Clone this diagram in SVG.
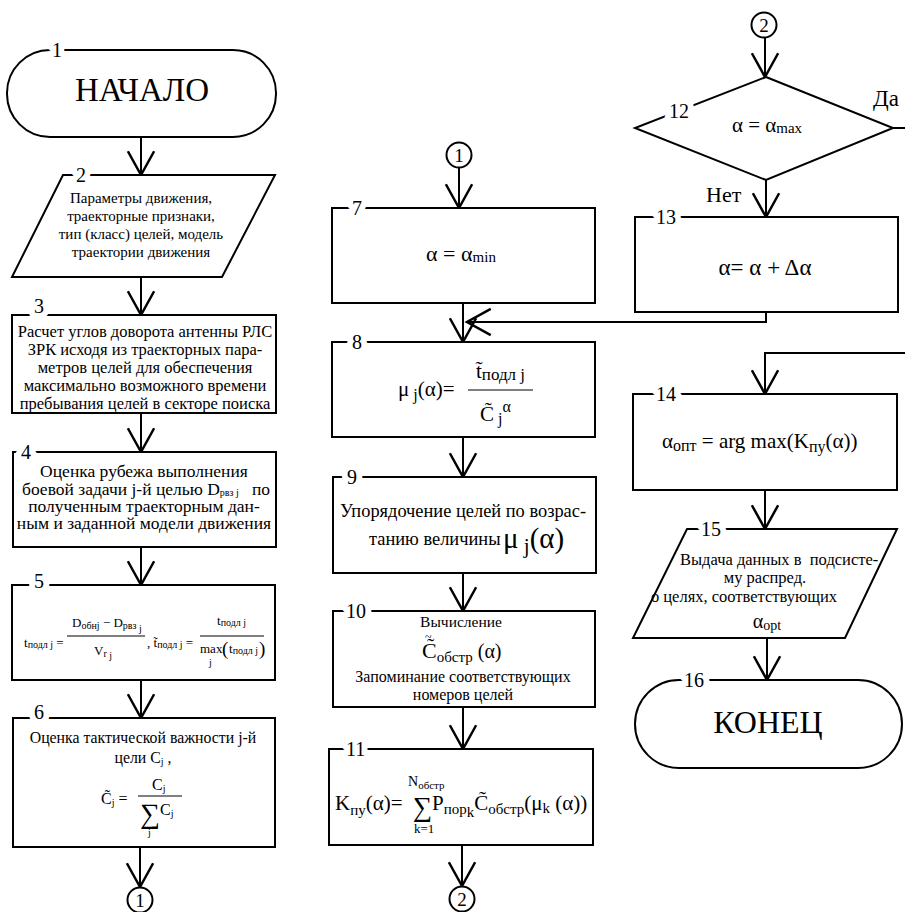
<svg xmlns="http://www.w3.org/2000/svg" width="905" height="912" viewBox="0 0 905 912">
<style>
text{font-family:'Liberation Serif','Times New Roman',serif;fill:#000}
.s{fill:#fff;stroke:#000;stroke-width:2}
.c{fill:none;stroke:#000;stroke-width:2}
.b{stroke:#000;stroke-width:1;fill:none}
.n{font-size:20px;stroke:#fff;stroke-width:12px;stroke-linejoin:round;paint-order:stroke}
.m{text-anchor:middle}
</style>
<defs>
<marker id="a" markerUnits="userSpaceOnUse" markerWidth="30" markerHeight="30" viewBox="-22 -12 24 24" refX="0" refY="0" orient="auto" overflow="visible">
<path d="M-19,-10.5 L0,0 L-19,10.5" fill="none" stroke="#000" stroke-width="2"/>
</marker>
</defs>
<rect width="905" height="912" fill="#fff"/>

<g id="connectors" class="c" marker-end="url(#a)">
<path d="M141,137 V175"/>
<path d="M141,277 V315"/>
<path d="M141,413 V452"/>
<path d="M141,547 V585"/>
<path d="M141,680 V718"/>
<path d="M140,847 V887"/>
<path d="M459,168 V208"/>
<path d="M463,303 V342"/>
<path d="M766,312 V322 H467"/>
<path d="M463,437 V477"/>
<path d="M463,573 V611"/>
<path d="M463,707 V749"/>
<path d="M462,845 V886"/>
<path d="M765,38 V77"/>
<path d="M766,180 V217"/>
<path d="M905,353 H765 V394"/>
<path d="M765,490 V529"/>
<path d="M767,638 V680"/>
<path d="M893,128 H905" marker-end="none"/>
</g>

<g id="n1">
<rect class="s" x="7" y="50" width="269" height="87" rx="43" ry="43"/>
<text class="n" x="52" y="57">1</text>
<text class="m" x="142" y="101" font-size="33">НАЧАЛО</text>
</g>

<g id="n2">
<polygon class="s" points="63,175 275,175 222,277 12,277"/>
<text class="n" x="76" y="182">2</text>
<text class="m" font-size="15" x="141" y="203">Параметры движения,</text>
<text class="m" font-size="15" x="141" y="221">траекторные признаки,</text>
<text class="m" font-size="15" x="141" y="239">тип (класс) целей, модель</text>
<text class="m" font-size="15" x="141" y="257">траектории движения</text>
</g>

<g id="n3">
<rect class="s" x="12" y="315" width="264" height="98"/>
<text class="n" x="34" y="313">3</text>
<text class="m" font-size="16.5" x="145" y="337">Расчет углов доворота антенны РЛС</text>
<text class="m" font-size="16.5" x="145" y="355">ЗРК исходя из траекторных пара-</text>
<text class="m" font-size="16.5" x="145" y="373">метров целей для обеспечения</text>
<text class="m" font-size="16.5" x="145" y="391">максимально возможного времени</text>
<text class="m" font-size="16.5" x="145" y="409">пребывания целей в секторе поиска</text>
</g>

<g id="n4">
<rect class="s" x="13" y="452" width="263" height="95"/>
<text class="n" x="21" y="459">4</text>
<text class="m" font-size="17.5" x="144" y="477">Оценка рубежа выполнения</text>
<text font-size="17.5" x="22" y="495">боевой задачи j-й целью D<tspan font-size="10" dy="1">рвз j</tspan><tspan dy="-1">&#160;&#160;&#160;по</tspan></text>
<text class="m" font-size="17.5" x="144" y="512">полученным траекторным дан-</text>
<text class="m" font-size="17.5" x="144" y="529">ным и заданной модели движения</text>
</g>

<g id="n5">
<rect class="s" x="12" y="585" width="263" height="95"/>
<text class="n" x="34" y="588">5</text>
<text font-size="13" x="24" y="647">t<tspan font-size="10" dy="1">подл j</tspan><tspan dy="-1"> =</tspan></text>
<text font-size="13" x="72" y="627">D<tspan font-size="10" dy="2">обн</tspan><tspan font-size="10">j</tspan><tspan dy="-2"> − D</tspan><tspan font-size="10" dy="2">рвз</tspan><tspan font-size="10" dy="3"> j</tspan></text>
<path class="b" d="M67,636 H145 M200,636 H264"/>
<text font-size="13" x="94" y="655">V<tspan font-size="10" dy="2">r</tspan><tspan font-size="10" dy="2"> j</tspan></text>
<text font-size="13" x="147" y="647">, t̃<tspan font-size="10" dy="1">подл j</tspan><tspan dy="-1"> =</tspan></text>
<text font-size="13" x="217" y="625">t<tspan font-size="10" dy="1">подл j</tspan></text>
<text font-size="13" x="200" y="653">max</text>
<text x="222" y="655" font-size="19">(</text>
<text font-size="13" x="229" y="653">t<tspan font-size="10" dy="1">подл j</tspan></text>
<text x="259" y="655" font-size="19">)</text>
<text x="209" y="666" font-size="10">j</text>
</g>

<g id="n6">
<rect class="s" x="13" y="718" width="262" height="129"/>
<text class="n" x="34" y="719">6</text>
<text class="m" font-size="15.8" x="143" y="743">Оценка тактической важности j-й</text>
<text class="m" font-size="15.8" x="143" y="763">цели C<tspan font-size="10" dy="2">j</tspan><tspan dy="-2"> ,</tspan></text>
<text x="101" y="804" font-size="16">C̃<tspan font-size="10" dy="2">j</tspan><tspan dy="-2"> =</tspan></text>
<text x="152" y="790" font-size="16">C<tspan font-size="10" dy="2">j</tspan></text>
<path class="b" d="M138,796 H182"/>
<text x="140" y="823" font-size="28">∑</text>
<text x="160" y="815" font-size="16">C<tspan font-size="10" dy="2">j</tspan></text>
<text x="148" y="836" font-size="10">j</text>
</g>

<g id="c1">
<circle class="s" cx="140" cy="900" r="12.5" stroke-width="1.5"/>
<text class="m" x="140" y="907" font-size="19">1</text>
</g>

<g id="c1b">
<circle class="s" cx="459" cy="155" r="12.5" stroke-width="1.5"/>
<text class="m" x="459" y="162" font-size="19">1</text>
</g>

<g id="n7">
<rect class="s" x="332" y="208" width="263" height="95"/>
<text class="n" x="352" y="215">7</text>
<text class="m" font-size="22" x="461" y="261">α = α<tspan font-size="15" dy="1">min</tspan></text>
</g>

<g id="n8">
<rect class="s" x="332" y="342" width="263" height="95"/>
<text class="n" x="352" y="349">8</text>
<text font-size="21" x="398" y="396">μ<tspan font-size="16" dy="4"> j</tspan><tspan dy="-4">(α)=</tspan></text>
<path class="b" d="M468,390 H533"/>
<text font-size="21" x="476" y="378">t̃<tspan font-size="17" dy="2">подл j</tspan></text>
<text font-size="21" x="480" y="421">C̃<tspan font-size="16" dy="3"> j</tspan><tspan font-size="16" dy="-12">α</tspan></text>
</g>

<g id="n9">
<rect class="s" x="333" y="477" width="263" height="96"/>
<text class="n" x="347" y="484">9</text>
<text class="m" font-size="18.4" x="463" y="517">Упорядочение целей по возрас-</text>
<text font-size="18.4" x="369" y="545">танию величины</text>
<text x="503" y="548" font-size="29">μ<tspan font-size="21" dy="5"> j</tspan><tspan dy="-5">(α)</tspan></text>
</g>

<g id="n10">
<rect class="s" x="333" y="611" width="262" height="96"/>
<text class="n" x="346" y="618">10</text>
<text class="m" font-size="15.5" x="461" y="627">Вычисление</text>
<text x="422" y="658" font-size="22">C̃<tspan font-size="15" dy="4">обстр</tspan><tspan font-size="20" dy="-4"> (α)</tspan></text>
<text x="425" y="641" font-size="12">~</text>
<text class="m" font-size="16" x="463" y="682">Запоминание соответствующих</text>
<text class="m" font-size="16" x="463" y="700">номеров целей</text>
</g>

<g id="n11">
<rect class="s" x="329" y="749" width="264" height="96"/>
<text class="n" x="346" y="756">11</text>
<text font-size="21" x="335" y="810">K<tspan font-size="15" dy="5">пу</tspan><tspan dy="-5">(α)=</tspan></text>
<text x="408" y="786" font-size="14">N<tspan font-size="11" dy="3">обстр</tspan></text>
<text x="413" y="816" font-size="27">∑</text>
<text x="414" y="833" font-size="13">k=1</text>
<text font-size="21" x="432" y="810">P<tspan font-size="15" dy="4">пор</tspan><tspan font-size="15" dy="3">k</tspan><tspan dy="-7">C̃</tspan><tspan font-size="15" dy="4">обстр</tspan><tspan dy="-4">(μ</tspan><tspan font-size="15" dy="3">k</tspan><tspan dy="-3"> (α))</tspan></text>
</g>

<g id="c2">
<circle class="s" cx="462" cy="899" r="12.5" stroke-width="1.5"/>
<text class="m" x="462" y="906" font-size="19">2</text>
</g>

<g id="c2b">
<circle class="s" cx="764" cy="25" r="12.5" stroke-width="1.5"/>
<text class="m" x="764" y="32" font-size="19">2</text>
</g>

<g id="n12">
<polygon class="s" points="766,77 893,128 766,180 635,128"/>
<text class="n" x="669" y="118">12</text>
<text class="m" font-size="21" x="767" y="132">α = α<tspan font-size="15" dy="1">max</tspan></text>
<text x="873" y="106" font-size="23">Да</text>
<text x="706" y="202" font-size="22">Нет</text>
</g>

<g id="n13">
<rect class="s" x="635" y="217" width="263" height="95"/>
<text class="n" x="656" y="224">13</text>
<text class="m" x="765" y="275" font-size="23">α= α + Δα</text>
</g>

<g id="n14">
<rect class="s" x="633" y="394" width="264" height="96"/>
<text class="n" x="656" y="401">14</text>
<text font-size="21" x="662" y="448">α<tspan font-size="16" dy="3">опт</tspan><tspan dy="-3"> = arg max(K</tspan><tspan font-size="16" dy="4">пу</tspan><tspan dy="-4">(α))</tspan></text>
</g>

<g id="n15">
<polygon class="s" points="687,529 897,529 845,638 633,638"/>
<text class="n" x="701" y="536">15</text>
<text font-size="16.5" x="680" y="565">Выдача данных в&#160; подсисте-</text>
<text class="m" font-size="16.5" x="765" y="583">му распред.</text>
<text class="m" font-size="16.5" x="744" y="602">о целях, соответствующих</text>
<text class="m" x="767" y="628" font-size="20">α<tspan font-size="14" dy="2">opt</tspan></text>
</g>

<g id="n16">
<rect class="s" x="635" y="680" width="267" height="88" rx="44" ry="44"/>
<text class="n" x="684" y="687">16</text>
<text class="m" x="768" y="733" font-size="32">КОНЕЦ</text>
</g>
</svg>
